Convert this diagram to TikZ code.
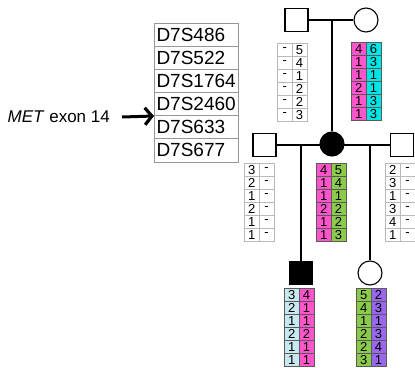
\documentclass[tikz,border=0pt]{standalone}
\usepackage{fontspec}
\setmainfont{Liberation Sans}
\usetikzlibrary{arrows.meta}
\definecolor{hpink}{RGB}{255,85,204}
\definecolor{hcyan}{RGB}{0,229,229}
\definecolor{hblue}{RGB}{200,232,240}
\definecolor{hgreen}{RGB}{140,203,74}
\definecolor{hpurple}{RGB}{153,102,238}
\definecolor{lightgrid}{RGB}{185,185,185}
\definecolor{darkgrid}{RGB}{90,90,90}
\definecolor{tablegrid}{RGB}{150,150,150}
\newcommand{\hapgrid}[7]{%
  \foreach \a/\b [count=\i] in {#6} {
    \node[hcell, draw=#7, fill=#4] (#1-\i-1) at (#2, #3+13*\i-13) {\a};
    \node[hcell, draw=#7, fill=#5] (#1-\i-2) at (#2+14.75, #3+13*\i-13) {\b};
  }}
\begin{document}
\begin{tikzpicture}[x=1pt, y=-1pt,
  hcell/.style={rectangle, minimum width=14.75pt, minimum height=13pt, inner sep=0pt,
    anchor=north west, line width=0.6pt, font=\fontsize{13}{13}\selectfont},
  mk/.style={rectangle, draw=tablegrid, line width=0.7pt, minimum height=23.17pt,
    text width=79pt, align=left, inner sep=2.5pt, font=\fontsize{19}{19}\selectfont},
  male/.style={rectangle, draw, line width=1.1pt, minimum size=23pt, inner sep=0pt},
  female/.style={circle, draw, line width=1.1pt, minimum size=24pt, inner sep=0pt},
  affected/.style={fill=black},
  pline/.style={line width=1.1pt},
  bigarrow/.style={line width=3pt, -{Straight Barb[length=7pt, width=17pt, line width=3.2pt]}}]
\useasboundingbox (0,0) rectangle (415,367);
\fill[white] (0,0) rectangle (415,367);

% marker table
\node[mk] (mk1) at (196,34.6) {D7S486};
\node[mk] (mk2) at (196,57.75) {D7S522};
\node[mk] (mk3) at (196,80.9) {D7S1764};
\node[mk] (mk4) at (196,104.1) {D7S2460};
\node[mk] (mk5) at (196,127.25) {D7S633};
\node[mk] (mk6) at (196,150.4) {D7S677};

% MET label and arrow
\node[anchor=east, inner sep=0pt, font=\fontsize{17}{17}\selectfont] (met) at (110,117) {\textit{MET} exon 14};
\coordinate (tip) at (154,116);
\draw[bigarrow] ([xshift=12pt]met.east) -- (tip);

% generation I
\node[male] (I1) at (296.5,20) {};
\node[female] (I2) at (366,20) {};
\draw[pline] (I1) -- (I2);
\coordinate (m1) at (332,20);

% generation II
\node[male] (II1) at (264.5,145) {};
\node[male] (II3) at (402,145) {};
\draw[pline] (II1) -- (II3);
\node[female, affected] (II2) at (332,144) {};
\draw[pline] (m1) -- (II2);
\coordinate (c1) at (301,145);
\coordinate (c2) at (370,145);

% generation III
\node[male, affected] (III1) at (301,273) {};
\node[female] (III2) at (370,273) {};
\draw[pline] (c1) -- (III1);
\draw[pline] (c2) -- (III2);

% haplotypes
\hapgrid{hI1}{277}{43}{white}{white}{-/5,-/4,-/1,-/2,-/2,-/3}{lightgrid}
\hapgrid{hI2}{351}{42}{hpink}{hcyan}{4/6,1/3,1/1,2/1,1/3,1/3}{darkgrid}
\hapgrid{hII1}{244}{163}{white}{white}{3/-,2/-,1/-,2/-,1/-,1/-}{lightgrid}
\hapgrid{hII2}{316}{163}{hpink}{hgreen}{4/5,1/4,1/1,2/2,1/2,1/3}{darkgrid}
\hapgrid{hII3}{385}{163}{white}{white}{2/-,3/-,1/-,3/-,4/-,1/-}{lightgrid}
\hapgrid{hIII1}{284}{288}{hblue}{hpink}{3/4,2/1,1/1,2/2,1/1,1/1}{darkgrid}
\hapgrid{hIII2}{356}{288}{hgreen}{hpurple}{5/2,4/3,1/1,2/3,2/4,3/1}{darkgrid}
\end{tikzpicture}
\end{document}
